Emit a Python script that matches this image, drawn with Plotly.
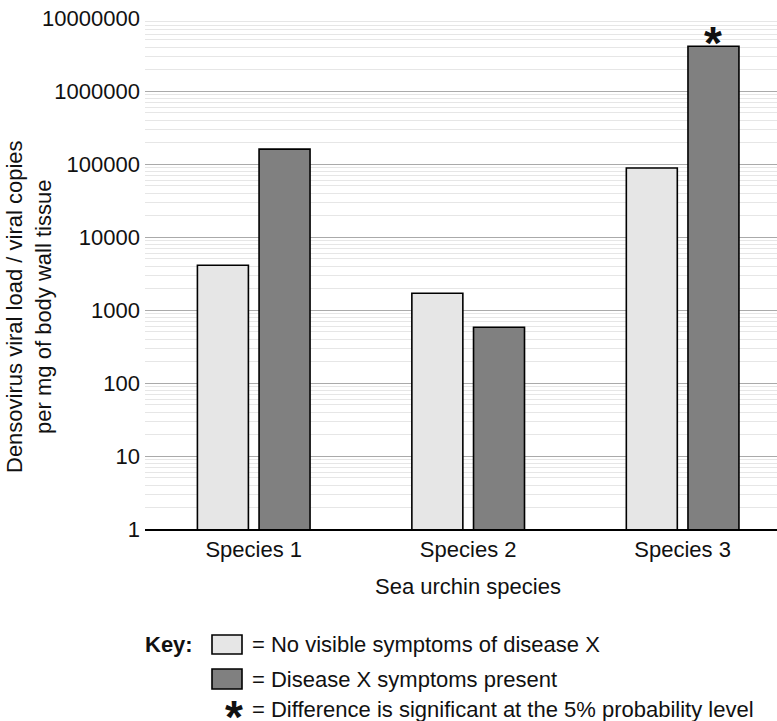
import math
import plotly.graph_objects as go

# ---------------- data ----------------
species = ["Species 1", "Species 2", "Species 3"]
no_symptoms = [4100, 1700, 88000]
symptoms_present = [160000, 580, 4100000]
significant = [False, False, True]
y_tick_values = [1, 10, 100, 1000, 10000, 100000, 1000000, 10000000]
y_tick_labels = ["1", "10", "100", "1000", "10000", "100000", "1000000", "10000000"]
series_names = ["No visible symptoms of disease X", "Disease X symptoms present"]
y_title_lines = ["Densovirus viral load / viral copies", "per mg of body wall tissue"]
x_title = "Sea urchin species"
key_title = "Key:"
significance_note = "Difference is significant at the 5% probability level"

# ---------------- style ----------------
FONT = "Liberation Sans, Arial, Helvetica, sans-serif"
FS = 22
TXT = "#111111"
LIGHT = "#e6e6e6"
DARK = "#808080"
W, H = 777, 721
ML, MR, MT, MB = 145, 0, 18, 192
BARGAP = 0.425
BARGROUPGAP = 0.173
STAR = 46

PW = W - ML - MR
PH = H - MT - MB


def px(x):
    return (x - ML) / PW


def py(y):
    return (H - MB - y) / PH


fig = go.Figure()
fig.add_trace(go.Bar(
    x=species, y=no_symptoms, name=series_names[0],
    marker=dict(color=LIGHT, line=dict(color="black", width=1.6)),
    showlegend=False,
))
fig.add_trace(go.Bar(
    x=species, y=symptoms_present, name=series_names[1],
    marker=dict(color=DARK, line=dict(color="black", width=1.6)),
    showlegend=False,
))

annotations = []
# significance asterisks above the "symptoms present" bars
for i, sig in enumerate(significant):
    if sig:
        annotations.append(dict(
            x=i + (1 - BARGAP) / 4, y=math.log10(symptoms_present[i]),
            xref="x", yref="y", text="<b>*</b>", showarrow=False,
            font=dict(family=FONT, size=STAR, color=TXT),
            xanchor="center", yanchor="middle", yshift=3,
        ))

# x axis title centred under the middle category
annotations.append(dict(
    x=1, y=py(587), xref="x", yref="paper", text=x_title, showarrow=False,
    font=dict(family=FONT, size=FS, color=TXT), xanchor="center", yanchor="middle",
))

# y axis title (two lines, rotated)
annotations.append(dict(
    x=px(29), y=py(307), xref="paper", yref="paper",
    text="<br>".join(y_title_lines), showarrow=False, textangle=-90,
    font=dict(family=FONT, size=FS, color=TXT), xanchor="center", yanchor="middle",
))

# key
annotations.append(dict(
    x=px(143), y=py(644), xref="paper", yref="paper", text="<b>" + key_title + "</b>",
    showarrow=False, font=dict(family=FONT, size=FS, color=TXT),
    xanchor="left", yanchor="middle",
))
key_rows = [py(644.5), py(679), py(709)]
for name, yrow in zip(series_names, key_rows[:2]):
    annotations.append(dict(
        x=px(250), y=yrow, xref="paper", yref="paper", text="= " + name,
        showarrow=False, font=dict(family=FONT, size=FS, color=TXT),
        xanchor="left", yanchor="middle",
    ))
annotations.append(dict(
    x=px(250), y=key_rows[2], xref="paper", yref="paper", text="= " + significance_note,
    showarrow=False, font=dict(family=FONT, size=FS, color=TXT),
    xanchor="left", yanchor="middle",
))
annotations.append(dict(
    x=px(234), y=key_rows[2], xref="paper", yref="paper", text="<b>*</b>",
    showarrow=False, font=dict(family=FONT, size=STAR, color=TXT),
    xanchor="center", yanchor="middle", yshift=-8,
))

shapes = [
    dict(type="rect", xref="paper", yref="paper", x0=px(212), x1=px(242),
         y0=py(654), y1=py(635), fillcolor=LIGHT, line=dict(color="black", width=1.6)),
    dict(type="rect", xref="paper", yref="paper", x0=px(212), x1=px(242),
         y0=py(689), y1=py(669), fillcolor=DARK, line=dict(color="black", width=1.6)),
]

fig.update_layout(
    width=W, height=H,
    margin=dict(l=ML, r=MR, t=MT, b=MB, pad=0),
    paper_bgcolor="white", plot_bgcolor="white",
    barmode="group", bargap=BARGAP, bargroupgap=BARGROUPGAP,
    font=dict(family=FONT, size=FS, color=TXT),
    annotations=annotations, shapes=shapes,
    showlegend=False,
)
fig.update_xaxes(
    type="category", range=[-0.507, 2.44],
    showline=True, linecolor="black", linewidth=1.6,
    showgrid=False, zeroline=False, ticks="",
    tickfont=dict(family=FONT, size=FS, color=TXT),
)
fig.update_yaxes(
    type="log", range=[0, 7],
    tickvals=y_tick_values, ticktext=y_tick_labels,
    showline=False, zeroline=False, ticks="",
    showgrid=True, gridcolor="#aaaaaa", gridwidth=1,
    minor=dict(dtick="D1", showgrid=True, gridcolor="#e6e6e6", gridwidth=1, ticks=""),
    tickfont=dict(family=FONT, size=FS, color=TXT),
    ticklabelstandoff=4,
)

fig.write_html(
    "out.html",
    config={"displayModeBar": False},
    post_script="document.body.style.margin='0';document.body.style.overflow='hidden';",
)
